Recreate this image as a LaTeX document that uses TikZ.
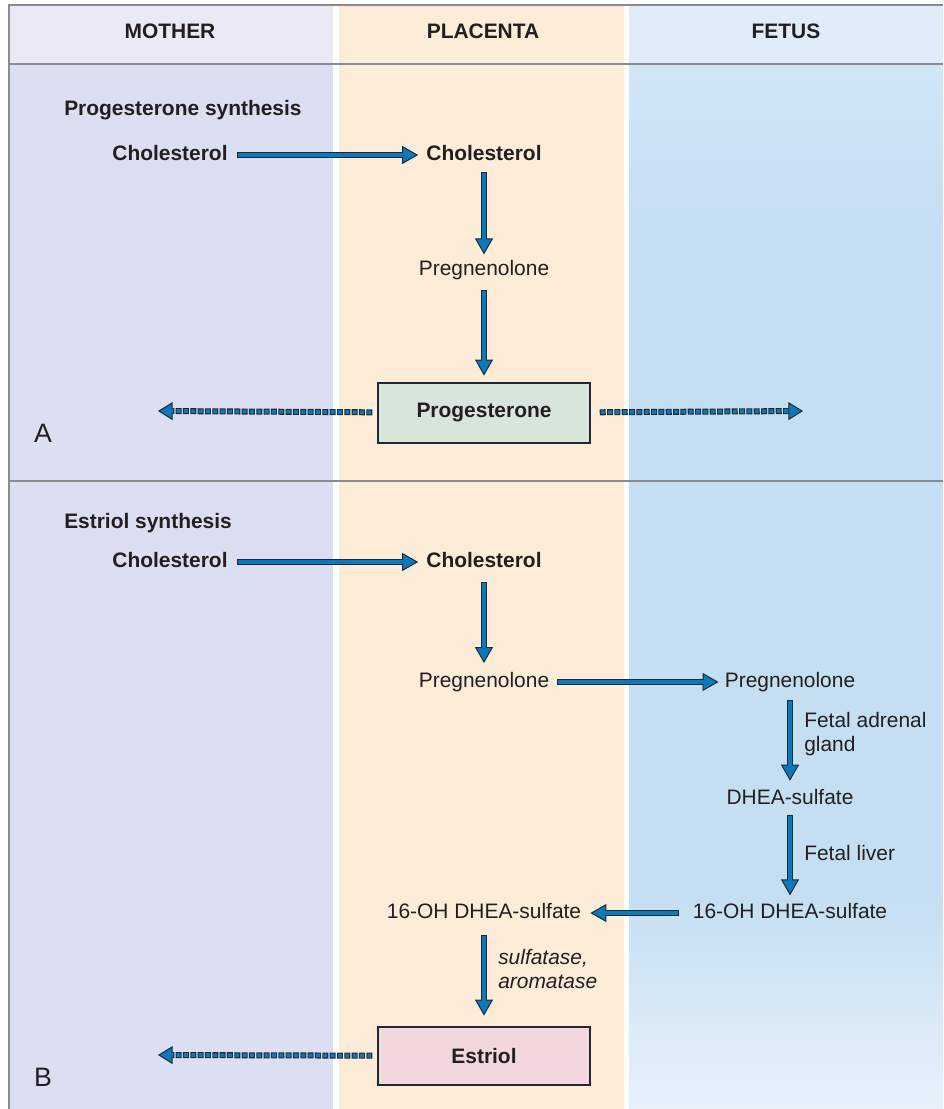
\documentclass[tikz,border=0pt]{standalone}
\usepackage{fontspec}
\setmainfont{Liberation Sans}
\usetikzlibrary{arrows.meta}
\definecolor{ablue}{HTML}{0B79BC}
\definecolor{lineblk}{HTML}{1E2A33}
\definecolor{txt}{HTML}{231F20}
\definecolor{frm}{HTML}{898B8E}
\definecolor{mothH}{HTML}{E9EAF6}
\definecolor{mothB}{HTML}{DCDEF1}
\definecolor{placB}{HTML}{FDECD7}
\definecolor{fetH}{HTML}{E0EDF9}
\definecolor{fetA}{HTML}{D2E6F6}
\definecolor{fetB}{HTML}{C5DFF2}
\definecolor{fetL}{HTML}{E8F1FA}
\definecolor{progfill}{HTML}{D7E5DB}
\definecolor{estfill}{HTML}{F2D8DC}
\newcommand{\fsz}{\fontsize{15.7}{17.4}\selectfont}
\tikzset{
  lab/.style={font=\fsz, text=txt, inner sep=3pt, text height=11pt, text depth=3pt},
  blab/.style={lab, font=\fsz\bfseries},
  multilab/.style={font=\fsz, text=txt, inner sep=3pt, align=left},
  boxnode/.style={draw=lineblk, line width=1.1pt, font=\fsz\bfseries, text=txt, minimum width=159pt, inner sep=0pt},
  frame/.style={draw=frm, line width=2.2pt},
  flow/.style 2 args={draw=lineblk, line width=4.5pt, shorten <=#1, shorten >=#2,
    -{Triangle[length=12pt,width=13.5pt,fill=ablue,line width'=0.75pt]},
    postaction={draw=ablue, line width=3pt, -, shorten <=#1+0.75pt, shorten >=#2+11pt}},
  dflow/.style 2 args={draw=lineblk, line width=4.5pt, dash pattern=on 4.5pt off 1pt, shorten <=#1, shorten >=#2,
    -{Triangle[length=11pt,width=13.5pt,fill=ablue,line width'=0.75pt]},
    postaction={draw=ablue, line width=2.9pt, dash pattern=on 2.9pt off 2.6pt, dash phase=4.7pt, -, shorten >=#2+10pt}}
}
\begin{document}
\begin{tikzpicture}[x=0.75pt,y=-0.75pt]
\useasboundingbox (0,0) rectangle (943,1109);
% backgrounds
\fill[white] (0,0) rectangle (943,1109);
\fill[mothH] (9,5) rectangle (333,64);
\fill[mothB] (9,64) rectangle (333,1109);
\fill[placB] (339,5) rectangle (624,1109);
\fill[fetH] (629,5) rectangle (943,64);
\shade[top color=fetA, bottom color=fetB] (629,64) rectangle (943,220);
\fill[fetB] (629,219) rectangle (943,900);
\shade[top color=fetB, bottom color=fetL] (629,899) rectangle (943,1109);
% frame
\draw[frame] (943,5) -- (9,5) -- (9,1109);
\draw[frame] (9,64) -- (943,64);
\draw[frame] (9,481) -- (943,481);
% headers
\node[blab] (hm) at (170,33) {MOTHER};
\node[blab] (hp) at (483,33) {PLACENTA};
\node[blab] (hf) at (786,33) {FETUS};
% section A
\node[blab, anchor=west] (progsyn) at (60,110) {Progesterone synthesis};
\node[blab] (mchol1) at (170,155) {Cholesterol};
\node[blab] (pchol1) at (484,155) {Cholesterol};
\node[lab] (preg1) at (484,270) {Pregnenolone};
\node[boxnode, fill=progfill, minimum height=45pt] (progbox) at (484,413) {Progesterone};
\coordinate (aleft) at (158,411);
\coordinate (aright) at (803,411);
\node[font=\fontsize{20}{22}\selectfont, text=txt, inner sep=0pt] (la) at (43,433) {A};
\draw[flow={3.75pt}{3pt}] (mchol1) -- (pchol1);
\draw[flow={2.8pt}{1.5pt}] (pchol1) -- (preg1);
\draw[flow={5pt}{5pt}] (preg1) -- (progbox);
\draw[dflow={3.75pt}{0pt}] (progbox) -- (aleft);
\draw[dflow={6.75pt}{0pt}] (progbox) -- (aright);
% section B
\node[blab, anchor=west] (estsyn) at (60,523) {Estriol synthesis};
\node[blab] (mchol2) at (170,562) {Cholesterol};
\node[blab] (pchol2) at (484,562) {Cholesterol};
\node[lab] (preg2) at (484,682) {Pregnenolone};
\node[lab] (fpreg) at (790,682) {Pregnenolone};
\node[lab] (dhea) at (790,799) {DHEA-sulfate};
\node[lab] (foh) at (790,913) {16-OH DHEA-sulfate};
\node[lab] (poh) at (484,913) {16-OH DHEA-sulfate};
\node[boxnode, fill=estfill, minimum height=43.5pt] (estbox) at (484,1056) {Estriol};
\coordinate (bleft) at (158,1055);
\node[multilab, anchor=west] (adrenal) at (800,734) {Fetal adrenal\\gland};
\node[multilab, anchor=west] (liver) at (800,853) {Fetal liver};
\node[multilab, anchor=west, font=\fsz\itshape] (enz) at (494,969) {sulfatase,\\aromatase};
\node[font=\fontsize{20}{22}\selectfont, text=txt, inner sep=0pt] (lb) at (43,1077) {B};
\draw[flow={3.75pt}{3pt}] (mchol2) -- (pchol2);
\draw[flow={5pt}{4pt}] (pchol2) -- (preg2);
\draw[flow={3pt}{1.5pt}] (preg2) -- (fpreg);
\draw[flow={3.5pt}{3.5pt}] (fpreg) -- (dhea);
\draw[flow={2pt}{3pt}] (dhea) -- (foh);
\draw[flow={7pt}{3.75pt}] (foh) -- (poh);
\draw[flow={6.5pt}{8pt}] (poh) -- (estbox);
\draw[dflow={3.75pt}{0pt}] (estbox) -- (bleft);
\end{tikzpicture}
\end{document}
